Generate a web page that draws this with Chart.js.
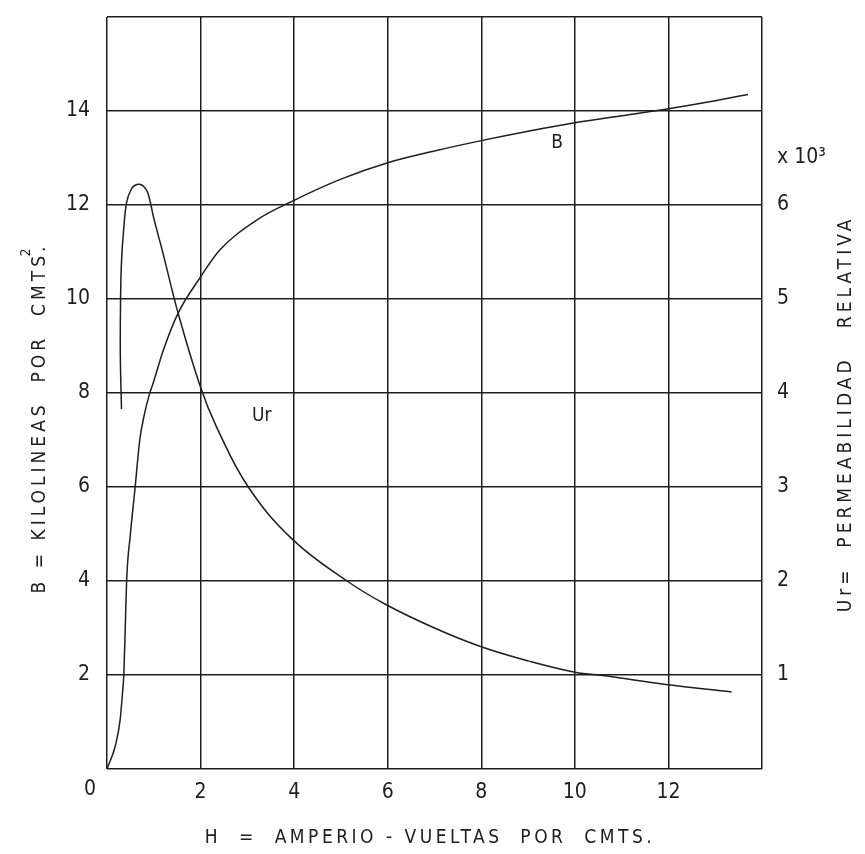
<!DOCTYPE html>
<html>
<head>
<meta charset="utf-8">
<script src="https://cdn.jsdelivr.net/npm/chart.js@4.4.1/dist/chart.umd.min.js"></script>
<style>
  body { margin: 0; background: #fff; }
  #wrap { width: 865px; height: 854px; }
</style>
</head>
<body>
<div id="wrap"><canvas id="chartBH"></canvas></div>
<script>
// B curve (kilolineas / cm2) against H
var hB = [0, 0.18, 0.28, 0.33, 0.36, 0.39, 0.42, 0.5, 0.6, 0.7, 0.8, 0.9, 1.0, 1.2, 1.52, 2.0, 2.41, 3.2, 4, 5, 6, 7, 8, 9, 10, 11, 12, 13, 13.7];
var bValues = [0, 0.5, 1.04, 1.6, 2.02, 3.0, 4.02, 5.0, 5.98, 7.0, 7.55, 7.95, 8.25, 8.9, 9.7, 10.47, 11.04, 11.68, 12.1, 12.55, 12.9, 13.15, 13.37, 13.57, 13.75, 13.9, 14.05, 14.22, 14.35];

// Ur curve (x 10^3) against H
var hUr = [0.31, 0.285, 0.29, 0.31, 0.35, 0.42, 0.52, 0.6, 0.7, 0.8, 0.88, 1.0, 1.2, 1.52, 2.0, 2.34, 3.02, 3.97, 5.13, 5.96, 7.0, 8.0, 9.0, 10.0, 10.68, 11.94, 13.35];
var urValues = [3.83, 4.4, 5.0, 5.4, 5.7, 6.03, 6.17, 6.21, 6.22, 6.19, 6.12, 5.86, 5.48, 4.85, 4.06, 3.64, 3.0, 2.44, 2.0, 1.75, 1.5, 1.3, 1.15, 1.03, 0.99, 0.9, 0.82];

var xTicks = [0, 2, 4, 6, 8, 10, 12, 14];
var bTicks = [0, 2, 4, 6, 8, 10, 12, 14, 16];
var urTicks = [1, 2, 3, 4, 5, 6];

var FONT = "'Liberation Sans Narrow', 'DejaVu Sans Condensed', 'Liberation Sans', sans-serif";
var INK = "#1e1e1e";

function toPoints(xs, ys) {
    return xs.map(function (x, i) {
        return { x: x, y: ys[i] };
    });
}

function setTicks(list) {
    return function (scale) {
        scale.ticks = list.map(function (v) {
            return { value: v };
        });
    };
}

// fixed axis sizes so the plot box lands where the drawing has it
function fitTo(size) {
    return function (s) {
        if (s.isHorizontal()) {
            s.height = size;
            s.paddingLeft = 0;
            s.paddingRight = 0;
        } else {
            s.width = size;
            s.paddingTop = 0;
            s.paddingBottom = 0;
        }
    };
}

var textPlugin = {
    id: "textPlugin",
    afterDraw: function (chart) {
        var ctx = chart.ctx;
        var xs = chart.scales.x;
        var yb = chart.scales.yB;
        var yu = chart.scales.yUr;
        ctx.save();
        ctx.fillStyle = INK;
        ctx.textBaseline = "middle";
        ctx.textAlign = "center";

        // origin label
        ctx.font = "21px " + FONT;
        ctx.fillText("0", xs.getPixelForValue(0) - 17, 790);

        // curve labels
        ctx.font = "19px " + FONT;
        ctx.fillText("B", xs.getPixelForValue(9.62), yb.getPixelForValue(13.32));
        ctx.fillText("Ur", xs.getPixelForValue(3.31), yu.getPixelForValue(3.75));

        // axis titles
        ctx.font = "19px " + FONT;
        ctx.letterSpacing = "3.5px";
        ctx.fillText("H  =  AMPERIO - VUELTAS  POR  CMTS.", 430, 838);

        ctx.save();
        ctx.translate(40, 418);
        ctx.rotate(-Math.PI / 2);
        ctx.letterSpacing = "4px";
        ctx.fillText("B = KILOLINEAS  POR  CMTS.", 0, 0);
        var w = ctx.measureText("B = KILOLINEAS  POR  CMTS.").width;
        ctx.font = "14px " + FONT;
        ctx.fillText("2", w / 2 - 8, -14);
        ctx.restore();

        ctx.font = "19px " + FONT;
        ctx.letterSpacing = "4px";
        ctx.save();
        ctx.translate(846, 414);
        ctx.rotate(-Math.PI / 2);
        ctx.fillText("Ur=  PERMEABILIDAD   RELATIVA", 0, 0);
        ctx.restore();

        ctx.restore();
    },
};

var ctx = document.getElementById("chartBH").getContext("2d");

var chartData = {
    datasets: [
        {
            label: "B",
            data: toPoints(hB, bValues),
            yAxisID: "yB",
            borderColor: INK,
            borderWidth: 1.5,
            pointRadius: 0,
            showLine: true,
            cubicInterpolationMode: "monotone",
        },
        {
            label: "Ur",
            data: toPoints(hUr, urValues),
            yAxisID: "yUr",
            borderColor: INK,
            borderWidth: 1.5,
            pointRadius: 0,
            showLine: true,
            tension: 0.4,
        },
    ],
};

var options = {
    responsive: true,
    maintainAspectRatio: false,
    animation: false,
    layout: { padding: { top: 17, left: 0, right: 0, bottom: 0 } },
    plugins: {
        legend: { display: false },
        tooltip: { enabled: false },
    },
    scales: {
        x: {
            type: "linear",
            min: 0,
            max: 14,
            afterBuildTicks: setTicks(xTicks),
            afterFit: fitTo(85),
            grid: { color: INK, lineWidth: 1.5, drawTicks: false },
            border: { display: false },
            ticks: {
                color: INK,
                padding: 11,
                font: { family: FONT, size: 21 },
                maxRotation: 0,
                callback: function (v) {
                    return v === 0 || v === 14 ? "" : v;
                },
            },
        },
        yB: {
            type: "linear",
            position: "left",
            min: 0,
            max: 16,
            afterBuildTicks: setTicks(bTicks),
            afterFit: fitTo(107),
            grid: { color: INK, lineWidth: 1.5, drawTicks: false },
            border: { display: false },
            ticks: {
                color: INK,
                padding: 17,
                font: { family: FONT, size: 21 },
                callback: function (v) {
                    return v === 0 || v === 16 ? "" : v;
                },
            },
        },
        yUr: {
            type: "linear",
            position: "right",
            min: 0,
            max: 8,
            afterBuildTicks: function (scale) {
                scale.ticks = urTicks.concat([6.5]).map(function (v) {
                    return { value: v };
                });
            },
            afterFit: fitTo(103),
            grid: { drawOnChartArea: false, drawTicks: false },
            border: { display: false },
            ticks: {
                color: INK,
                padding: 15,
                font: { family: FONT, size: 21 },
                callback: function (v) {
                    return v === 6.5 ? "x 10\u00b3" : v;
                },
            },
        },
    },
};

var myChart = new Chart(ctx, {
    type: "scatter",
    data: chartData,
    options: options,
    plugins: [textPlugin],
});
</script>
</body>
</html>
